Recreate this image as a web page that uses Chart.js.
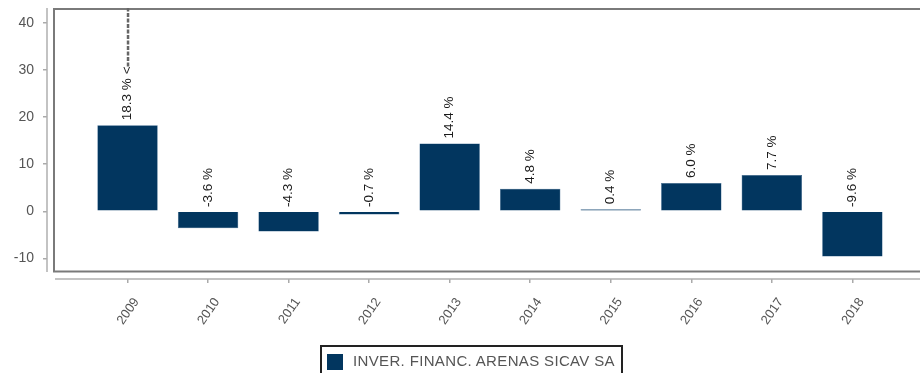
<!DOCTYPE html>
<html>
<head>
<meta charset="utf-8">
<script src="https://cdn.jsdelivr.net/npm/chart.js@4/dist/chart.umd.min.js"></script>
<style>
  html, body { margin: 0; padding: 0; background: #fff; overflow: hidden; }
  #wrap { position: relative; width: 920px; height: 373px; }
  #legend {
    position: absolute; left: 320px; top: 345px; width: 299px; height: 32px;
    border: 2px solid #222; box-sizing: content-box;
    font: 15px "Liberation Sans", Arial, sans-serif; color: #555;
  }
  #legend .sw {
    position: absolute; left: 5px; top: 7px; width: 16px; height: 16px; background: #02365f;
  }
  #legend .tx { position: absolute; left: 31px; top: 5px; white-space: nowrap; letter-spacing: 0.35px; }
</style>
</head>
<body>
<div id="wrap">
  <canvas id="chart" width="920" height="373"></canvas>
  <div id="legend"><span class="sw"></span><span class="tx">INVER. FINANC. ARENAS SICAV SA</span></div>
</div>
<script>
const years = ['2009', '2010', '2011', '2012', '2013', '2014', '2015', '2016', '2017', '2018'];
const returns = [18.3, -3.6, -4.3, -0.7, 14.4, 4.8, 0.4, 6.0, 7.7, -9.6];
const yTicks = [-10, 0, 10, 20, 30, 40];
const seriesName = 'INVER. FINANC. ARENAS SICAV SA';

const barColor = '#02365f';

// frame + offset axis lines, drawn like the original report chart
const framePlugin = {
  id: 'frame',
  beforeDatasetsDraw(chart) {
    const ctx = chart.ctx;
    const a = chart.chartArea;
    ctx.save();
    ctx.strokeStyle = '#b0b0b0';
    ctx.lineWidth = 1.5;
    ctx.beginPath();
    ctx.moveTo(a.left, a.top);
    ctx.lineTo(a.left, a.bottom - 7);
    ctx.moveTo(a.left + 8, a.bottom);
    ctx.lineTo(a.right, a.bottom);
    ctx.stroke();

    ctx.strokeStyle = '#7a7a7a';
    ctx.lineWidth = 2;
    ctx.beginPath();
    ctx.moveTo(a.right + 5, a.top + 1);
    ctx.lineTo(a.left + 7, a.top + 1);
    ctx.lineTo(a.left + 7, a.bottom - 7.5);
    ctx.lineTo(a.right + 5, a.bottom - 7.5);
    ctx.stroke();
    ctx.restore();
  }
};

const valueLabels = {
  id: 'valueLabels',
  afterDatasetsDraw(chart) {
    const ctx = chart.ctx;
    const meta = chart.getDatasetMeta(0);
    const maxVal = Math.max(...returns);
    ctx.save();
    ctx.font = '13.5px "Liberation Sans", Arial, sans-serif';
    ctx.fillStyle = '#1a1a1a';
    ctx.textBaseline = 'middle';
    ctx.textAlign = 'left';
    meta.data.forEach((bar, i) => {
      const v = returns[i];
      const y0 = v >= 0 ? bar.y : bar.base;
      let text = v.toFixed(1) + ' %';
      if (v === maxVal) text += ' <';
      ctx.save();
      ctx.translate(bar.x, y0 - 5);
      ctx.rotate(-Math.PI / 2);
      ctx.fillText(text, 0, 0);
      const w = ctx.measureText(text).width;
      ctx.restore();
      if (v === maxVal) {
        ctx.save();
        ctx.strokeStyle = '#666';
        ctx.lineWidth = 2.5;
        ctx.setLineDash([4, 1.5]);
        ctx.beginPath();
        ctx.moveTo(bar.x + 0.5, y0 - 5 - w);
        ctx.lineTo(bar.x + 0.5, chart.chartArea.top);
        ctx.stroke();
        ctx.restore();
      }
    });
    ctx.restore();
  }
};

new Chart(document.getElementById('chart'), {
  type: 'bar',
  data: {
    datasets: [{
      label: seriesName,
      data: returns.map((v, i) => ({ x: i, y: v })),
      backgroundColor: barColor,
      borderColor: '#2a5a85',
      borderWidth: 0.5,
      barPercentage: 0.75,
      categoryPercentage: 1
    }]
  },
  options: {
    responsive: false,
    animation: false,
    layout: { padding: { top: 8, left: 0, right: 0, bottom: 0 } },
    plugins: {
      legend: { display: false },
      tooltip: { enabled: false }
    },
    scales: {
      x: {
        type: 'linear',
        min: -1,
        max: 9.84,
        offset: false,
        afterBuildTicks: s => { s.ticks = years.map((_, i) => ({ value: i })); },
        afterFit: s => { s.height = 94; s.paddingLeft = 0; s.paddingRight = 0; },
        border: { display: false },
        grid: { drawOnChartArea: false, offset: false, tickLength: 4, color: '#aaa', lineWidth: 1.5 },
        ticks: {
          callback: v => years[v] ?? '',
          minRotation: 55,
          maxRotation: 55,
          padding: 12,
          labelOffset: 9,
          color: '#555',
          font: { family: '"Liberation Sans", Arial, sans-serif', size: 13 }
        }
      },
      y: {
        min: -14.4,
        max: 43.2,
        afterBuildTicks: s => { s.ticks = yTicks.map(v => ({ value: v })); },
        afterFit: s => { s.width = 47; s.paddingTop = 0; s.paddingBottom = 0; },
        border: { display: false },
        grid: { drawOnChartArea: false, tickLength: 4, color: '#aaa', lineWidth: 1.5 },
        ticks: {
          padding: 9,
          color: '#555',
          font: { family: '"Liberation Sans", Arial, sans-serif', size: 14 }
        }
      }
    }
  },
  plugins: [framePlugin, valueLabels]
});
</script>
</body>
</html>
